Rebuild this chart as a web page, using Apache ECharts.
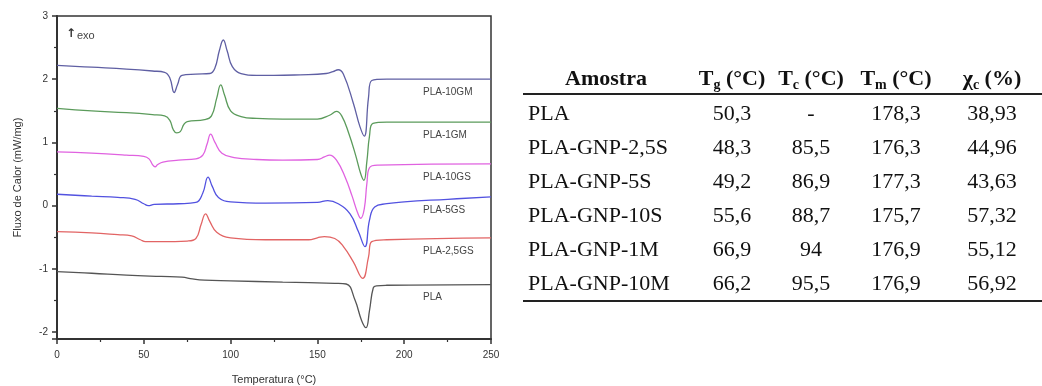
<!DOCTYPE html>
<html>
<head>
<meta charset="utf-8">
<script src="https://cdn.jsdelivr.net/npm/echarts@6/dist/echarts.min.js"></script>
<style>
html,body{margin:0;padding:0;background:#fff;}
#chart{width:1042px;height:386px;}
</style>
</head>
<body>
<div id="chart"></div>
<script>
// ---- DSC curves: [temperature (°C), heat flow (mW/mg)] ----
var seriesNames = ['PLA-10GM', 'PLA-1GM', 'PLA-10GS', 'PLA-5GS', 'PLA-2,5GS', 'PLA'];
var seriesColors = ['#5f5fa3', '#5b9b5b', '#e062e0', '#5252e0', '#e26464', '#555555'];

var pla10GM = [[0,2.22],[20,2.19],[40,2.16],[55,2.13],[62,2.11],[65,2.02],[67.5,1.79],[69.5,1.92],[72,2.06],[80,2.08],[88,2.09],[91,2.18],[93.5,2.45],[95.8,2.62],[98,2.45],[101,2.2],[106,2.09],[115,2.06],[125,2.06],[140,2.07],[155,2.09],[159,2.12],[162,2.15],[165,2.08],[170.7,1.62],[174.5,1.25],[177,1.1],[179.4,1.7],[181.3,1.98],[190,2.0],[220,2.0],[250,2.0]];
var pla1GM = [[0,1.54],[20,1.5],[40,1.47],[55,1.44],[62,1.42],[65,1.35],[67,1.2],[69,1.15],[71,1.17],[73,1.28],[75,1.33],[85,1.36],[89,1.42],[92,1.7],[94.3,1.91],[96.5,1.75],[100,1.5],[106,1.41],[115,1.38],[130,1.37],[150,1.37],[157,1.43],[161,1.49],[164,1.42],[168,1.15],[172,0.8],[175,0.5],[176.8,0.4],[178.5,0.7],[180,1.1],[182,1.3],[190,1.32],[250,1.32]];
var pla10GS = [[0,0.85],[20,0.83],[40,0.8],[50,0.78],[53,0.74],[55,0.65],[56.5,0.615],[58,0.65],[61,0.69],[70,0.72],[80,0.74],[84,0.8],[86.5,0.98],[88.5,1.13],[91,1.0],[95,0.83],[102,0.76],[115,0.73],[130,0.72],[150,0.73],[154,0.77],[157,0.8],[161,0.72],[166,0.45],[170,0.15],[173,-0.1],[175,-0.2],[177,-0.05],[178.5,0.35],[180,0.6],[185,0.64],[250,0.66]];
var pla5GS = [[0,0.18],[20,0.15],[35,0.13],[45,0.1],[50,0.03],[52.6,0.0],[56,0.02],[70,0.03],[80,0.05],[84,0.2],[87,0.45],[89.5,0.3],[93,0.13],[100,0.06],[120,0.04],[150,0.05],[156,0.08],[162,0.03],[168.8,-0.13],[173.6,-0.41],[177.4,-0.65],[180,-0.23],[183,-0.02],[190,0.03],[200,0.06],[225,0.1],[250,0.14]];
var pla25GS = [[0,-0.41],[20,-0.43],[35,-0.46],[43,-0.48],[48,-0.54],[51,-0.57],[60,-0.57],[75,-0.56],[80,-0.52],[83,-0.3],[85.6,-0.13],[88,-0.25],[92,-0.42],[100,-0.51],[120,-0.54],[145,-0.54],[150,-0.51],[154,-0.49],[160,-0.52],[164.8,-0.64],[170.7,-0.89],[176.1,-1.15],[179.4,-0.82],[181.3,-0.57],[190,-0.54],[250,-0.51]];
var plaPure = [[0,-1.045],[20,-1.07],[40,-1.1],[60,-1.12],[72,-1.13],[78,-1.16],[85,-1.18],[100,-1.19],[130,-1.21],[160,-1.23],[166.6,-1.24],[171.6,-1.49],[175.5,-1.82],[178,-1.93],[180,-1.66],[182.2,-1.3],[184,-1.27],[190,-1.26],[250,-1.25]];
var seriesData = [pla10GM, pla1GM, pla10GS, pla5GS, pla25GS, plaPure];

// ---- axis ticks ----
var xTicks = [0, 50, 100, 150, 200, 250];
var yTicks = [-2, -1, 0, 1, 2, 3];

// ---- table ----
var tableHeaders = [['Amostra', ''], ['T', 'g'], ['T', 'c'], ['T', 'm'], ['χ', 'c']];
var headerUnits = ['', ' (°C)', ' (°C)', ' (°C)', ' (%)'];
var tableSamples = ['PLA', 'PLA-GNP-2,5S', 'PLA-GNP-5S', 'PLA-GNP-10S', 'PLA-GNP-1M', 'PLA-GNP-10M'];
var tableTg = ['50,3', '48,3', '49,2', '55,6', '66,9', '66,2'];
var tableTc = ['-', '85,5', '86,9', '88,7', '94', '95,5'];
var tableTm = ['178,3', '176,3', '177,3', '175,7', '176,9', '176,9'];
var tableXc = ['38,93', '44,96', '43,63', '57,32', '55,12', '56,92'];

var chart = echarts.init(document.getElementById('chart'), null, {renderer: 'canvas'});

var axisColor = '#333';
var sansFont = 'Liberation Sans';
var serifFont = 'Liberation Serif';

var series = seriesNames.map(function (name, i) {
  return {
    name: name,
    type: 'line',
    data: seriesData[i],
    showSymbol: false,
    smooth: 0.45,
    lineStyle: {color: seriesColors[i], width: 1.3},
    itemStyle: {color: seriesColors[i]},
    endLabel: {
      show: true,
      formatter: name,
      offset: [-76, 13],
      color: '#444',
      fontSize: 10,
      fontFamily: sansFont
    },
    z: 3
  };
});

// table graphics
var colX = [606, 732, 811, 896, 992];
var headerY = 79;
var rowY0 = 114;
var rowStep = 34;
var graphics = [];

// exo marker
graphics.push({
  type: 'text', left: 66, top: 28,
  style: {text: '↑', font: 'bold 12px "DejaVu Sans"', fill: '#333'}
});
graphics.push({
  type: 'text', left: 77, top: 30,
  style: {text: 'exo', font: '11px "' + sansFont + '"', fill: '#444'}
});

tableHeaders.forEach(function (h, j) {
  var txt = h[1] ? '{m|' + h[0] + '}{s|' + h[1] + '}{m|' + headerUnits[j] + '}' : '{m|' + h[0] + '}';
  graphics.push({
    type: 'text',
    x: colX[j], y: headerY,
    style: {
      text: txt,
      align: 'center', verticalAlign: 'middle',
      rich: {
        m: {font: 'bold 22px "' + serifFont + '"', fill: '#111', lineHeight: 26, verticalAlign: 'middle'},
        s: {font: 'bold 14px "' + serifFont + '"', fill: '#111', lineHeight: 14, verticalAlign: 'bottom'}
      }
    }
  });
});

graphics.push({type: 'line', shape: {x1: 523, y1: 94, x2: 1042, y2: 94}, style: {stroke: '#222', lineWidth: 2}});

var cols = [tableTg, tableTc, tableTm, tableXc];
tableSamples.forEach(function (s, i) {
  var y = rowY0 + i * rowStep;
  graphics.push({
    type: 'text', x: 528, y: y,
    style: {text: s, font: '22px "' + serifFont + '"', fill: '#111', align: 'left', verticalAlign: 'middle'}
  });
  cols.forEach(function (c, j) {
    graphics.push({
      type: 'text', x: colX[j + 1], y: y,
      style: {text: c[i], font: '22px "' + serifFont + '"', fill: '#111', align: 'center', verticalAlign: 'middle'}
    });
  });
});
graphics.push({type: 'line', shape: {x1: 523, y1: rowY0 + 5 * rowStep + 17, x2: 1042, y2: rowY0 + 5 * rowStep + 17}, style: {stroke: '#222', lineWidth: 2}});

chart.setOption({
  animation: false,
  backgroundColor: '#fff',
  grid: {
    left: 57, right: 551, top: 16, bottom: 47,
    outerBoundsMode: 'none', containLabel: false,
    show: true, borderColor: axisColor, borderWidth: 1.5, backgroundColor: 'transparent'
  },
  xAxis: {
    type: 'value', min: xTicks[0], max: xTicks[xTicks.length - 1], interval: 50,
    name: 'Temperatura (°C)', nameLocation: 'middle', nameGap: 35,
    nameTextStyle: {color: '#333', fontSize: 11, fontFamily: sansFont},
    axisLine: {show: true, onZero: false, lineStyle: {color: axisColor, width: 2}},
    axisTick: {show: true, inside: false, length: 5, lineStyle: {color: axisColor, width: 1.5}},
    minorTick: {show: true, splitNumber: 2, length: 3, lineStyle: {color: axisColor, width: 1.2}},
    splitLine: {show: false},
    axisLabel: {color: '#333', fontSize: 10, margin: 11, fontFamily: sansFont}
  },
  yAxis: {
    type: 'value', min: -2.11, max: yTicks[yTicks.length - 1], splitNumber: 5,
    name: 'Fluxo de Calor (mW/mg)', nameLocation: 'middle', nameGap: 34,
    nameTextStyle: {color: '#333', fontSize: 11, fontFamily: sansFont},
    axisLine: {show: true, onZero: false, lineStyle: {color: axisColor, width: 2}},
    axisTick: {show: true, inside: false, length: 5, lineStyle: {color: axisColor, width: 1.5}},
    minorTick: {show: true, splitNumber: 2, length: 3, lineStyle: {color: axisColor, width: 1.2}},
    splitLine: {show: false},
    axisLabel: {color: '#333', fontSize: 10, margin: 9, fontFamily: sansFont, showMinLabel: false,
      formatter: function (v) { return yTicks.indexOf(Math.round(v * 100) / 100) >= 0 ? String(v) : ''; }}
  },
  series: series,
  graphic: graphics
});
</script>
</body>
</html>
